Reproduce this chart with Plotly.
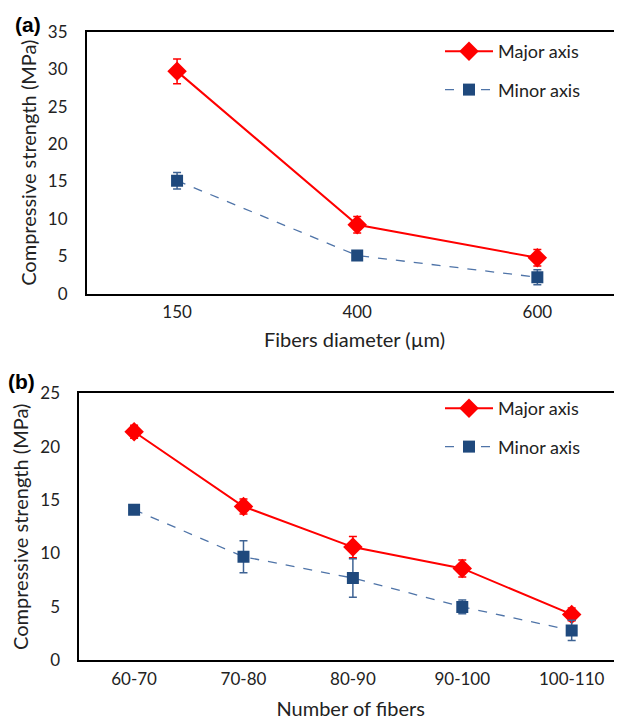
import plotly.graph_objects as go

# Panel (a)
diameters = ["150", "400", "600"]
major_a = [29.7, 9.2, 4.8]
major_a_err = [1.65, 1.1, 1.1]
minor_a = [15.1, 5.1, 2.2]
minor_a_err = [1.1, 0.3, 1.0]

# Panel (b)
fiber_counts = ["60-70", "70-80", "80-90", "90-100", "100-110"]
major_b = [21.4, 14.4, 10.6, 8.6, 4.3]
major_b_err = [0.6, 0.7, 1.0, 0.8, 0.6]
minor_b = [14.1, 9.7, 7.7, 5.0, 2.8]
minor_b_err = [0.2, 1.5, 1.8, 0.65, 0.95]

RED = "#FF0000"
BLUE = "#1F497D"
BLUE_LINE = "#4F74A8"
FONT = "Lato"

# page body has an 8px margin; work in screen pixels and convert
OFF = 8
W, H = 622 - OFF, 720 - OFF

def fx(px):
    return (px - OFF) / W

def fy(py):
    return 1 - (py - OFF) / H

fig = go.Figure()

def add_pair(x, maj, maj_err, mino, mino_err, xa, ya, leg):
    fig.add_trace(go.Scatter(
        x=x, y=maj, name="Major axis", mode="lines+markers",
        line=dict(color=RED, width=2),
        marker=dict(symbol="diamond", size=15, color=RED),
        error_y=dict(type="data", array=maj_err, color=RED, thickness=1.5, width=4),
        xaxis=xa, yaxis=ya, legend=leg, legendgroup=leg + "maj"))
    fig.add_trace(go.Scatter(
        x=x, y=mino, name="Minor axis", mode="lines+markers",
        line=dict(color=BLUE_LINE, width=1.3, dash="dash"),
        marker=dict(symbol="square", size=12, color=BLUE),
        error_y=dict(type="data", array=mino_err, color="#3E6394", thickness=1.5, width=4),
        xaxis=xa, yaxis=ya, legend=leg, legendgroup=leg + "min"))

add_pair(diameters, major_a, major_a_err, minor_a, minor_a_err, "x", "y", "legend")
add_pair(fiber_counts, major_b, major_b_err, minor_b, minor_b_err, "x2", "y2", "legend2")

axis_common = dict(showline=True, linecolor="black", linewidth=2, showgrid=False,
                   zeroline=False, automargin=False,
                   tickfont=dict(family=FONT, size=17, color="#222"),
                   title_font=dict(family=FONT, size=20, color="#222"))

fig.update_layout(
    width=W, height=H,
    margin=dict(l=0, r=0, t=0, b=0),
    plot_bgcolor="white", paper_bgcolor="white",
    font=dict(family=FONT),
    xaxis=dict(domain=[fx(87), 1], anchor="y", type="category",
               range=[-0.5, 2.47], mirror=True, ticks="", ticklabelstandoff=2,
               title=dict(text="Fibers diameter (µm)", standoff=12), **axis_common),
    yaxis=dict(domain=[fy(293.7), fy(31.7)], anchor="x", range=[0, 35], dtick=5,
               ticks="", ticklabelstandoff=14,
               title=dict(text="Compressive strength (MPa)", standoff=6), **axis_common),
    xaxis2=dict(domain=[fx(79.4), 1], anchor="y2", type="category",
                range=[-0.5, 4.46], mirror=True, ticks="", ticklabelstandoff=2,
                title=dict(text="Number of fibers", standoff=14), **axis_common),
    yaxis2=dict(domain=[fy(660.3), fy(393.3)], anchor="x2", range=[0, 25], dtick=5,
                ticks="", ticklabelstandoff=14,
                title=dict(text="Compressive strength (MPa)", standoff=6), **axis_common),
    legend=dict(x=fx(440), y=fy(33), xanchor="left", yanchor="top",
                bgcolor="rgba(0,0,0,0)", font=dict(family=FONT, size=18, color="#222"),
                tracegroupgap=12, itemwidth=48),
    legend2=dict(x=fx(440), y=fy(390), xanchor="left", yanchor="top",
                 bgcolor="rgba(0,0,0,0)", font=dict(family=FONT, size=18, color="#222"),
                 tracegroupgap=12, itemwidth=48),
    annotations=[
        dict(text="<b>(a)</b>", x=fx(28), y=fy(24), xref="paper", yref="paper",
             xanchor="center", yanchor="middle", showarrow=False,
             font=dict(family="Liberation Sans", size=21, color="black")),
        dict(text="<b>(b)</b>", x=fx(21), y=fy(381), xref="paper", yref="paper",
             xanchor="center", yanchor="middle", showarrow=False,
             font=dict(family="Liberation Sans", size=21, color="black")),
    ],
)

fig.write_html("out.html")
